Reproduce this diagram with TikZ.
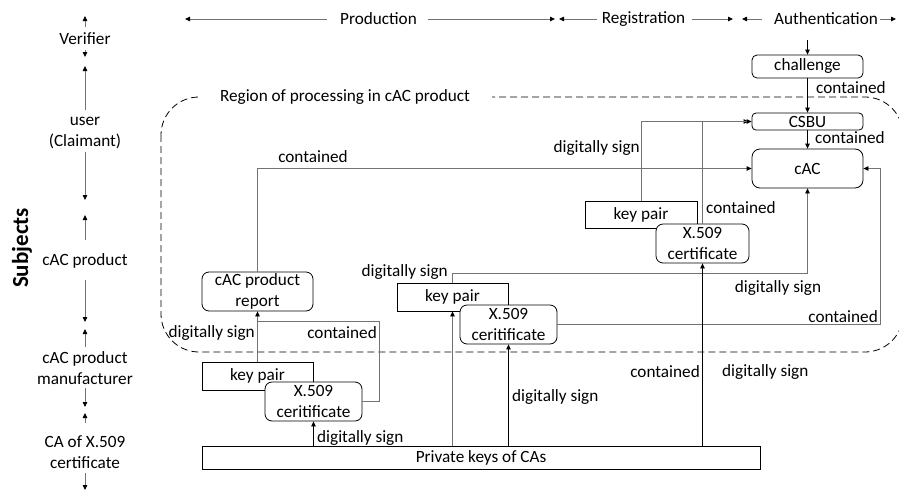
\documentclass[tikz,border=0pt]{standalone}
\usepackage{fontspec}
\setmainfont{Carlito}
\usetikzlibrary{arrows.meta,calc}
\begin{document}
\begin{tikzpicture}[x=1pt,y=-1pt,
  every node/.style={font=\fontsize{17.2}{21}\selectfont, text=black},
  lab/.style={inner sep=0pt},
  rbox/.style={draw=black, line width=0.8pt, fill=white, rounded corners=5pt, inner sep=0pt, align=center},
  sbox/.style={draw=black, line width=0.8pt, fill=white, inner sep=0pt, align=center},
  conn/.style={draw=black!55, line width=0.8pt},
  arr/.style={conn, -{Triangle[length=5pt,width=4.5pt,color=black]}},
  sarr/.style={arr, draw=black},
  region/.style={draw=black, line width=0.8pt, dash pattern=on 7pt off 4pt, rounded corners=38pt}
]
\fill[white] (0,0) rectangle (899,493);
\useasboundingbox (0,0) rectangle (899,493);

% region of processing
\draw[region] (161,97) rectangle (903,352);
\node[fill=white, inner xsep=22pt, inner ysep=2pt] (regionlab) at (345,97) {Region of processing in cAC product};

% header
\node[lab] (hprod) at (378.5,19) {Production};
\node[lab] (hreg) at (643.5,19) {Registration};
\node[lab] (hauth) at (826,19) {Authentication};
\coordinate (prodL) at (185,19);
\coordinate (prodR) at (555,19);
\coordinate (regL) at (559,19);
\coordinate (regR) at (733,19);
\coordinate (authL) at (742,19);
\coordinate (authR) at (896,19);
\draw[arr] ([xshift=-13pt]hprod.west) -- (prodL);
\draw[arr] ([xshift=11pt]hprod.east) -- (prodR);
\draw[arr] ([xshift=-5pt]hreg.west) -- (regL);
\draw[arr] ([xshift=7pt]hreg.east) -- (regR);
\draw[arr] ([xshift=-12pt]hauth.west) -- (authL);
\draw[arr] ([xshift=2pt]hauth.east) -- (authR);

% left column
\node[rotate=90, lab, font=\fontsize{23}{26}\selectfont\bfseries] (subj) at (22,248) {Subjects};
\node[lab] (ver) at (85,39) {Verifier};
\node[lab, align=center] (usr) at (85,133) {user\\(Claimant)};
\node[lab] (cprod) at (85,261) {cAC product};
\node[lab, align=center] (manu) at (85,368) {cAC product\\manufacturer};
\node[lab, align=center] (ca) at (85,452.5) {CA of X.509\\certificate};
\draw[arr] ($(ver)+(0,-12)$) -- (85,16);
\draw[arr] ($(ver)+(0,11)$) -- (85,57);
\draw[arr] ($(usr)+(0,-23)$) -- (85,66);
\draw[arr] ($(usr)+(0,19)$) -- (85,200);
\draw[arr] ($(cprod)+(0,-21)$) -- (85,215);
\draw[arr] ($(cprod)+(0,19)$) -- (85,322);
\draw[arr] ($(manu)+(0,-21)$) -- (85,329);
\draw[arr] ($(manu)+(0,20)$) -- (85,407);
\draw[arr] ($(ca)+(0,-30)$) -- (85,413);
\draw[arr] ($(ca)+(0,20)$) -- (85,490);

% boxes
\node[rbox, minimum width=111pt, minimum height=23pt] (chal) at (807.5,66.5) {challenge};
\node[rbox, rounded corners=4pt, minimum width=111pt, minimum height=17pt] (csbu) at (807.5,121.5) {CSBU};
\node[rbox, rounded corners=8pt, minimum width=111pt, minimum height=39pt] (cac) at (807.5,168.5) {cAC};
\node[rbox, rounded corners=7pt, minimum width=111pt, minimum height=39pt] (rep) at (257.5,291.5) {cAC product\\report};
\node[sbox, minimum width=111pt, minimum height=28pt] (kp1) at (257.5,376) {key pair};
\node[rbox, rounded corners=7pt, minimum width=97pt, minimum height=39pt] (x1) at (313.5,401.5) {X.509\\ceritificate};
\node[sbox, minimum width=111pt, minimum height=28pt] (kp2) at (452.5,297) {key pair};
\node[rbox, rounded corners=7pt, minimum width=97pt, minimum height=39pt] (x2) at (508.5,324.5) {X.509\\ceritificate};
\node[sbox, minimum width=112pt, minimum height=27pt] (kp3) at (641,214.5) {key pair};
\node[rbox, rounded corners=7pt, minimum width=93pt, minimum height=39pt] (x3) at (702.5,243.5) {X.509\\certificate};
\node[sbox, minimum width=558pt, minimum height=23pt] (priv) at (481,457.5) {Private keys of CAs};

% connectors
\coordinate (authin) at (807.5,40);
\draw[sarr] (authin) -- (chal.north);
\draw[sarr] (chal.south) -- (csbu.north);
\node[lab, anchor=west] (l1) at (816,88) {contained};
\draw[sarr] (csbu.south) -- (cac.north);
\node[lab, anchor=west] (l2) at (815,138) {contained};

\draw[arr] (rep.north) |- (cac.west);
\node[lab] (l3) at (313,157) {contained};

\draw[arr] (kp2.north) -- ++(0,-9) -| (cac.south);
\node[lab, anchor=east] (l4) at (448,272) {digitally sign};
\node[lab] (l5) at (778,288) {digitally sign};

\coordinate (rcorner) at (880,324.5);
\draw[arr] (x2.east) -- (rcorner) |- (cac.east);
\node[lab, anchor=east] (l6) at (878,317) {contained};

\draw[arr, shorten >=3pt] (kp3.north) |- (csbu.west);
\draw[arr] (x3.north) |- (csbu.west);
\node[lab, anchor=east] (l7) at (640,148) {digitally sign};
\node[lab, anchor=west] (l8) at (706,208) {contained};

\draw[arr] (kp1.north) -- (rep.south);
\node[lab, anchor=east] (l9) at (255,333) {digitally sign};
\coordinate (lcorner) at (379,321);
\coordinate (mergept) at (257.5,321);
\draw[conn] (x1.east) -| (lcorner) -- (mergept);
\node[lab, anchor=east] (l10) at (377,333) {contained};

\draw[sarr] (x1.south |- priv.north) -- (x1.south);
\node[lab, anchor=west] (l11) at (317,438) {digitally sign};
\draw[arr] (kp2.south |- priv.north) -- (kp2.south);
\draw[sarr] (x2.south |- priv.north) -- (x2.south);
\node[lab, anchor=west] (l12) at (512,397) {digitally sign};
\draw[sarr] (x3.south |- priv.north) -- (x3.south);
\node[lab, anchor=east] (l13) at (700,372) {contained};
\node[lab, anchor=west] (l14) at (722,372) {digitally sign};
\end{tikzpicture}
\end{document}
